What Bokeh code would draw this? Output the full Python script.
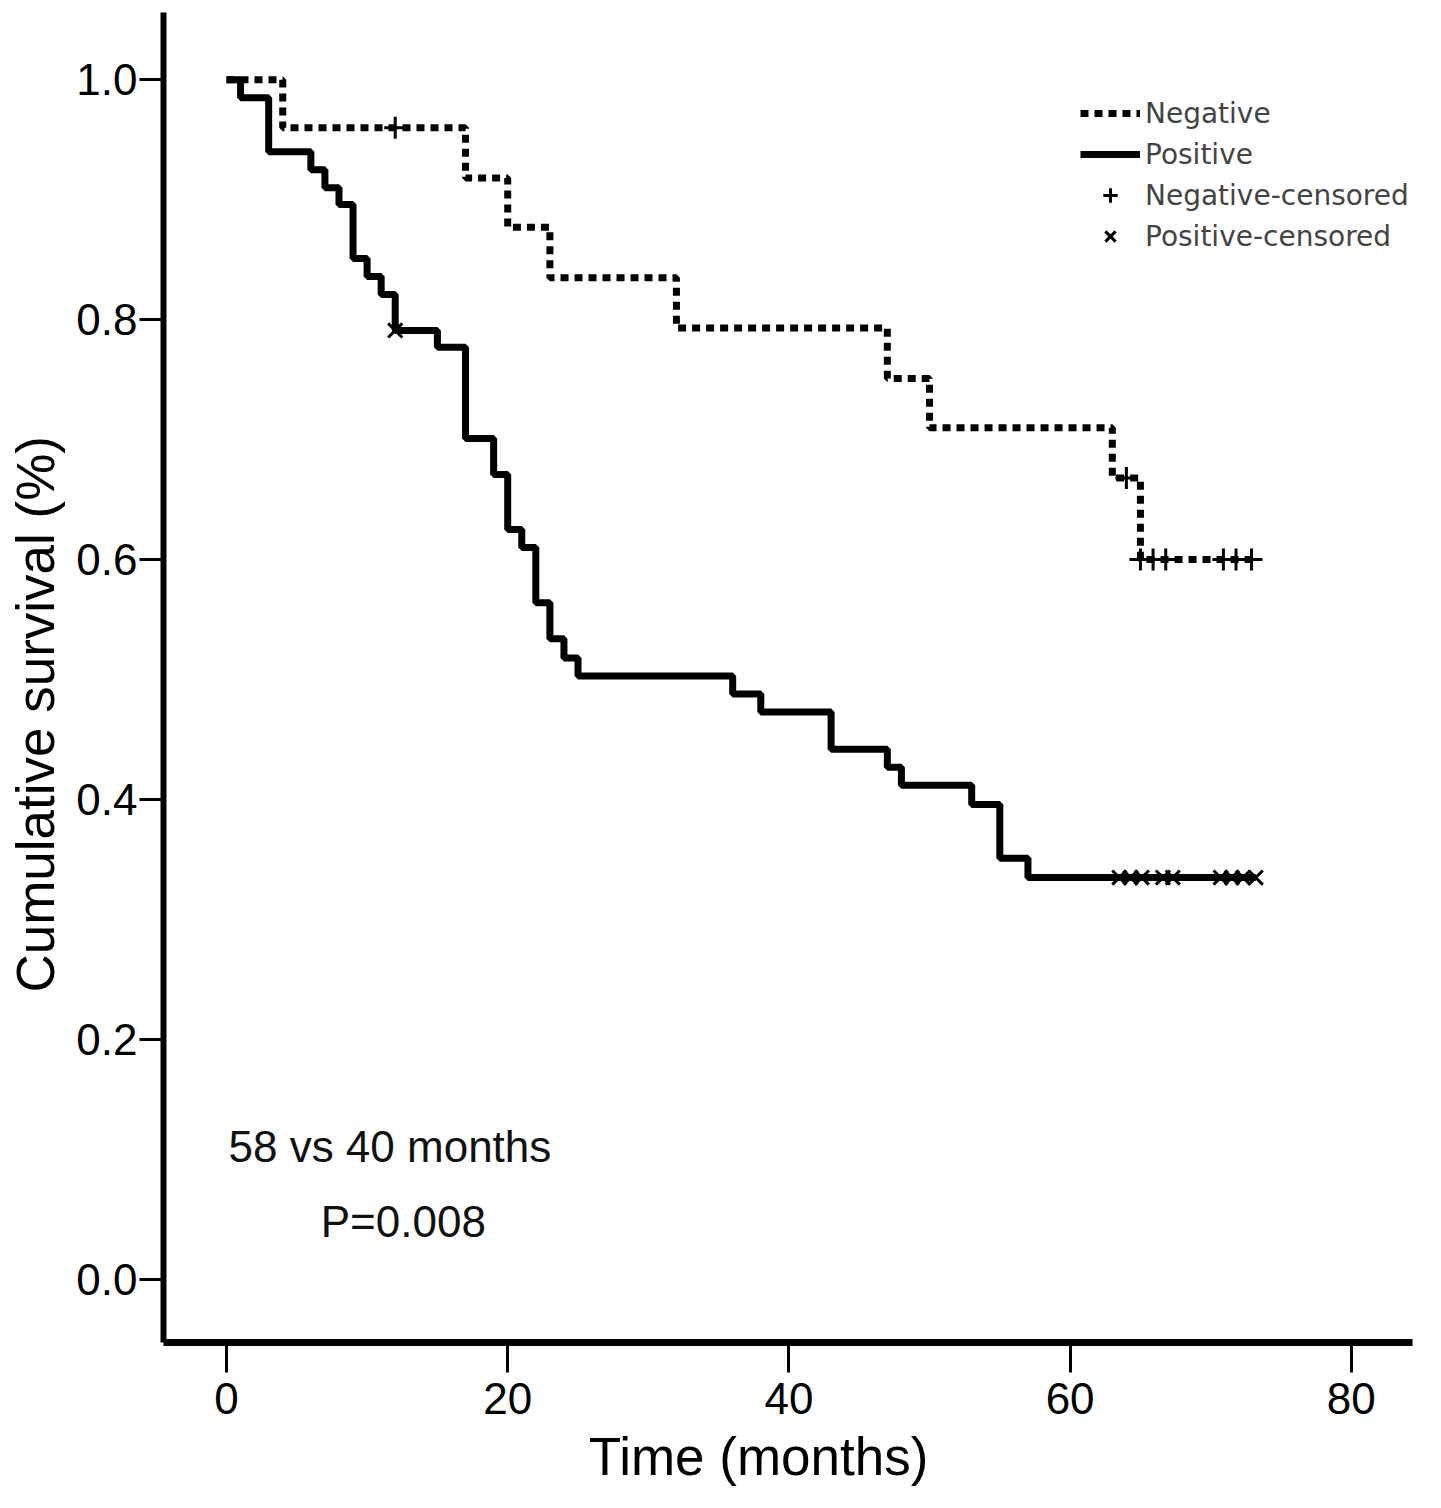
from bokeh.plotting import figure
from bokeh.models import Label, Legend, LegendItem, FixedTicker, PrintfTickFormatter
from bokeh.embed import file_html
from bokeh.resources import INLINE

# Kaplan-Meier steps
neg_time = [0, 4, 17, 20, 23, 32, 47, 50, 63, 65, 73.4]
neg_surv = [1.0, 0.960, 0.918, 0.877, 0.835, 0.793, 0.751, 0.710, 0.668, 0.600, 0.600]

pos_time = [0, 1, 3, 6, 7, 8, 9, 10, 11, 12, 15, 17, 19, 20, 21, 22, 23, 24, 25,
            36, 38, 43, 47, 48, 53, 55, 57, 73.2]
pos_surv = [1.0, 0.985, 0.940, 0.925, 0.910, 0.896, 0.851, 0.836, 0.821, 0.791, 0.777,
            0.701, 0.671, 0.625, 0.610, 0.564, 0.534, 0.518, 0.503, 0.488, 0.473, 0.442,
            0.427, 0.412, 0.396, 0.351, 0.335, 0.335]

# censored observations
neg_cens_time = [12, 64, 65, 65.9, 66.8, 70.9, 71.8, 72.9]
neg_cens_surv = [0.960, 0.668, 0.600, 0.600, 0.600, 0.600, 0.600, 0.600]
pos_cens_time = [12, 63.5, 64.3, 65.1, 66.6, 67.3, 70.7, 71.5, 72.3, 73.2]
pos_cens_surv = [0.791, 0.335, 0.335, 0.335, 0.335, 0.335, 0.335, 0.335, 0.335, 0.335]

x_ticks = [0, 20, 40, 60, 80]
y_ticks = [0.0, 0.2, 0.4, 0.6, 0.8, 1.0]

FONT = "Liberation Sans"
NBSP = "\u00a0"

p = figure(width=1441, height=1508, x_range=(-4.48, 84.35), y_range=(-0.0525, 1.056),
           output_backend="svg", toolbar_location=None, title=None,
           min_border_left=163, min_border_right=29, min_border_top=12, min_border_bottom=166,
           x_axis_label="Time (months)" + NBSP * 4,
           y_axis_label="Cumulative survival (%)" + NBSP * 5)
p.xgrid.visible = False
p.ygrid.visible = False
p.outline_line_color = None

p.xaxis.ticker = FixedTicker(ticks=x_ticks)
p.yaxis.ticker = FixedTicker(ticks=y_ticks)
p.yaxis.formatter = PrintfTickFormatter(format="%.1f")

for ax in (p.xaxis, p.yaxis):
    ax.minor_tick_line_color = None
    ax.major_tick_in = 0
    ax.major_tick_line_color = "black"
    ax.axis_line_color = "black"
    ax.major_label_text_font = FONT
    ax.major_label_text_font_size = "44px"
    ax.major_label_text_color = "black"
    ax.axis_label_text_font = FONT
    ax.axis_label_text_font_size = "53px"
    ax.axis_label_text_font_style = "normal"
    ax.axis_label_text_color = "black"

p.xaxis.axis_line_width = 7
p.xaxis.major_tick_out = 30
p.xaxis.major_tick_line_width = 3
p.xaxis.major_label_standoff = 10
p.xaxis.axis_label_standoff = 10

p.yaxis.axis_line_width = 6
p.yaxis.major_tick_out = 24
p.yaxis.major_tick_line_width = 3
p.yaxis.major_label_standoff = 2
p.yaxis.axis_label_standoff = 8

# survival curves
neg = p.step(neg_time, neg_surv, mode="after", line_width=7, line_dash="8 6",
             color="black", line_cap="butt")
pos = p.step(pos_time, pos_surv, mode="after", line_width=7, color="black")

ncs = p.scatter(neg_cens_time, neg_cens_surv, marker="cross", size=22, line_width=3,
                color="black")
pcs = p.scatter(pos_cens_time, pos_cens_surv, marker="x", size=20, line_width=3,
                color="black")

legend = Legend(items=[
    LegendItem(label="Negative", renderers=[neg]),
    LegendItem(label="Positive", renderers=[pos]),
    LegendItem(label="Negative-censored", renderers=[ncs]),
    LegendItem(label="Positive-censored", renderers=[pcs]),
], location=(917, 1088), glyph_width=60, glyph_height=36, label_height=36,
    spacing=5, padding=0, margin=0, border_line_color=None, background_fill_alpha=0,
    label_text_font="DejaVu Sans", label_text_font_size="28px", label_standoff=5)
p.add_layout(legend)

p.add_layout(Label(x=0.14, y=0.111, text="58 vs 40 months", text_font=FONT,
                   text_font_size="44px", text_baseline="alphabetic", text_color="#111111"))
p.add_layout(Label(x=6.7, y=0.048, text="P=0.008", text_font=FONT,
                   text_font_size="44px", text_baseline="alphabetic", text_color="#111111"))

open("out.html", "w").write(file_html(p, INLINE))
